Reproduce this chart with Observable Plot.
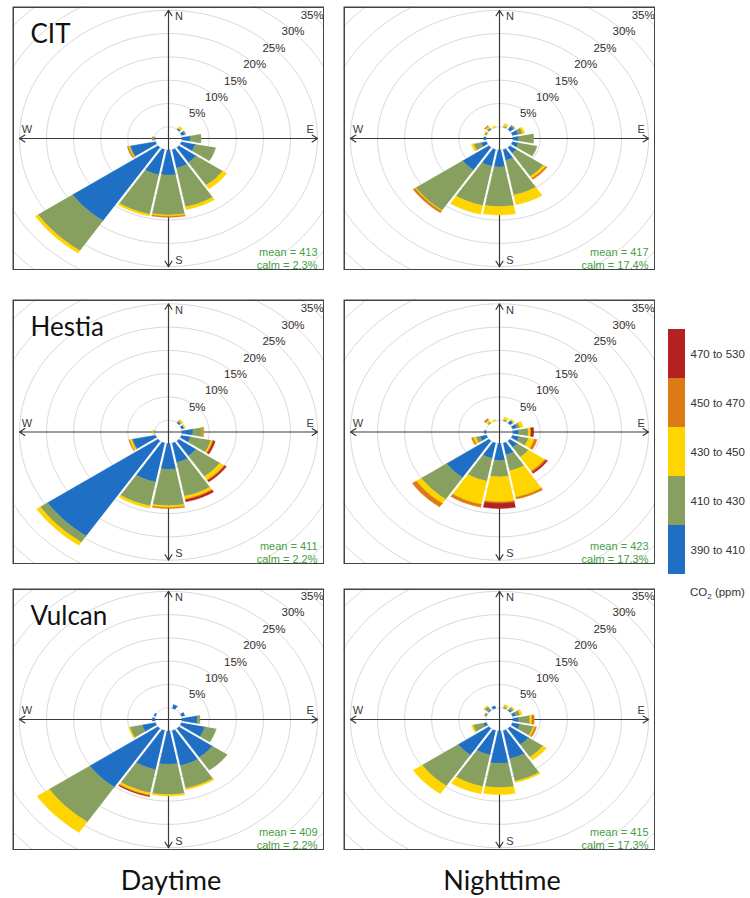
<!DOCTYPE html>
<html><head><meta charset="utf-8">
<script src="https://cdn.jsdelivr.net/npm/d3@7"></script>
<script src="https://cdn.jsdelivr.net/npm/@observablehq/plot@0.6"></script>
<style>
body{margin:0;background:#fff;}
#wrap{position:relative;width:750px;height:898px;background:#fff;overflow:hidden;}
.abs{position:absolute;}
.col{position:absolute;font-family:Lato,"Open Sans",sans-serif;font-size:27px;color:#111;text-align:center;width:200px;line-height:34px;}
</style></head><body><div id="wrap"></div>
<script>
// ---- data ----
const directions = [0,22.5,45,67.5,90,112.5,135,157.5,180,202.5,225,247.5,270,292.5,315,337.5];
const binLabels = ["390 to 410","410 to 430","430 to 450","450 to 470","470 to 530"];
const binColors = ["#1f6fc5","#87a05f","#ffd500","#dc7a17","#b52020"];
const gridPercents = [5,10,15,20,25,30,35];
const compass = ["N","E","S","W"];
const siteNames = ["CIT","CIT","Hestia","Hestia","Vulcan","Vulcan"];
const periods = ["Daytime","Nighttime"];
const means = [413,417,411,423,409,415];
const calms = [2.3,17.4,2.2,17.3,2.2,17.3];
// percent of time per direction (N..NNW) in each CO2 bin [390-410, 410-430, 430-450, 450-470, 470-530]
const citDay = [
 [0,0,0,0,0],[0,0,0,0,0],[0.3,0,0.5,0,0],[0.6,0.2,0,0,0],
 [1.5,2.0,0,0,0],[2.6,3.8,0,0,0],[3.8,5.9,0.9,0,0],[4.0,8.5,0.6,0,0],
 [5.35,8.55,0.3,0.2,0],[5.5,8.6,0.4,0,0],[18.9,7.7,0.6,0,0],[4.7,0.2,0.2,0.2,0],
 [0.1,0.3,0,0.1,0],[0,0,0,0,0],[0,0,0,0,0],[0,0,0,0,0]];
const citNight = [
 [0,0,0,0,0],[0,0.3,0.5,0,0],[0.8,0.3,0,0,0],[1.0,0.9,0.4,0,0],
 [1.0,2.8,0,0,0],[1.1,3.5,0,0,0],[1.4,6.0,0.5,0.3,0],[2.3,7.6,2.1,0,0],
 [3.6,8.5,1.8,0,0],[3.6,8.6,1.9,0,0],[5.8,10.4,0.2,0.4,0],[1.0,1.4,0.4,0,0],
 [0.4,0,0,0,0],[0,0.3,0.2,0,0],[0.2,0.2,0.4,0.2,0],[0,0,0.3,0,0]];
const hestiaDay = [
 [0,0,0,0,0],[0,0,0,0,0],[0.3,0.3,0.3,0,0],[0.5,0,0.2,0,0],
 [2.0,1.7,0.1,0.2,0],[1.7,3.8,0.3,0.2,0.3],[3.8,5.3,0.9,0.2,0.3],[4.2,7.4,0.6,0.2,0.4],
 [5.5,7.8,0.4,0.2,0],[8.5,5.2,0.5,0,0],[24.5,1.6,0.8,0,0],[4.3,0.2,0.4,0.1,0],
 [0,0.3,0.1,0,0],[0,0,0,0,0],[0,0,0,0,0],[0,0,0,0,0]];
const hestiaNight = [
 [0,0,0,0,0],[0,0.3,0.5,0,0],[0.7,0,0.3,0,0],[0.8,0.6,0.6,0,0],
 [1.0,1.8,0.5,0,0.5],[1.2,1.8,1.1,0.5,0],[1.6,2.5,3.6,0.3,0.3],[2.5,3.5,5.8,0.4,0],
 [3.6,3.5,5.4,0.3,1.1],[3.3,5.0,5.1,0.6,0],[9.4,5.6,1.1,0.9,0],[1.2,0.8,0.5,0.3,0],
 [0.3,0,0,0,0],[0,0,0,0,0],[0,0.3,0.5,0.3,0],[0,0,0.3,0,0]];
const vulcanDay = [
 [0,0,0,0,0],[0.8,0,0,0,0],[0,0,0,0,0],[0.6,0,0,0,0],
 [2.8,0.5,0,0,0],[4.4,2.1,0,0,0],[7.4,3.3,0,0,0],[7.6,5.0,0.3,0,0],
 [7.1,6.5,0.3,0,0],[8.5,5.1,0.5,0.2,0.1],[15.1,9.0,2.7,0,0],[2.5,2.3,0.2,0,0],
 [0.5,0,0,0,0],[0.3,0,0,0,0],[0,0,0,0,0],[0,0,0,0,0]];
const vulcanNight = [
 [0,0,0,0,0],[0,0.4,0.4,0,0],[0.3,0.5,0.2,0,0],[0.6,0.8,0.4,0,0],
 [1.0,2.1,0.4,0.4,0],[1.4,2.5,0.3,0.3,0],[4.1,3.2,0.8,0,0],[6.1,4.9,0.3,0,0],
 [6.9,5.2,1.5,0,0],[5.3,6.9,1.6,0,0],[6.8,8.0,2.0,0,0],[0.6,1.9,0.3,0,0],
 [0,0,0,0,0],[0,0.4,0,0,0],[0.2,0.8,0.2,0,0],[0.5,0,0,0,0]];
const panelData = [citDay, citNight, hestiaDay, hestiaNight, vulcanDay, vulcanNight];

// ---- layout / style ----
const OFF = 2.5, UPPER = 27.5, GAP = 0.45;
const colX = [12, 343], colW = 312;
const rowY = [6, 299, 588], rowH = [264, 265, 262];
const PXX = 5.42, PXY = 4.66;

function sectors(values){
  const out=[];
  values.forEach((row,i)=>{
    const c = directions[i]*Math.PI/180, h = 11.25*Math.PI/180;
    let r0 = OFF;
    row.forEach((v,j)=>{
      if(!(v>0)) return;
      const r1 = r0+v, id = i+"-"+j, bin = binLabels[j];
      const arc = (r,rev)=>{
        const d = Math.asin(Math.min(1, GAP/2/r));
        const a0 = c-h+d, a1 = c+h-d, pts=[];
        for(let k=0;k<=14;k++){const a=a0+(a1-a0)*k/14; pts.push({id,bin,x:r*Math.sin(a),y:r*Math.cos(a)});}
        return rev?pts.reverse():pts;
      };
      out.push(...arc(r1,false), ...arc(r0,true));
      r0 = r1;
    });
  });
  return out;
}
function ringPoints(){
  const out=[];
  [0,...gridPercents].forEach(p=>{
    const r=OFF+p;
    for(let a=0;a<=360;a+=2){const t=a*Math.PI/180; out.push({ring:p,x:r*Math.sin(t),y:r*Math.cos(t)});}
  });
  return out;
}
const compassPos = {N:[0.07,0.95],E:[0.95,0.07],S:[0.07,-0.95],W:[-0.95,0.07]};
const axisEnds = [{x:0,y:UPPER},{x:0,y:-UPPER},{x:UPPER,y:0},{x:-UPPER,y:0}];

function panel(i){
  const W = colW, H = rowH[Math.floor(i/2)];
  const XU = (W/2)/PXX, YU = (H/2)/PXY;
  const showTitle = i%2===0;
  return Plot.plot({
    width:W, height:H, margin:0,
    x:{domain:[-XU,XU], axis:null}, y:{domain:[-YU,YU], axis:null},
    color:{domain:binLabels, range:binColors},
    style:{fontFamily:"'Liberation Sans', Arial, sans-serif", background:"white"},
    marks:[
      Plot.line(ringPoints(),{x:"x",y:"y",z:"ring",stroke:"#d9d9d9",strokeWidth:1,clip:true}),
      Plot.arrow(axisEnds,{x1:0,y1:0,x2:"x",y2:"y",stroke:"#3a3a3a",strokeWidth:1.2,headLength:8,headAngle:65}),
      Plot.line(sectors(panelData[i]),{x:"x",y:"y",z:"id",fill:"bin",stroke:"bin",strokeWidth:0.5}),
      Plot.text(gridPercents,{x:p=>(p+OFF)*Math.SQRT1_2,y:p=>(p+OFF)*Math.SQRT1_2,text:p=>p+"%",fill:"#332d2d",fontSize:11.5,clip:true}),
      Plot.text(compass,{x:d=>compassPos[d][0]*UPPER,y:d=>compassPos[d][1]*UPPER,text:d=>d,fill:"#3a3a3a",fontSize:11}),
      Plot.text([`mean = ${means[i]}`],{frameAnchor:"bottom-right",text:d=>d,dx:-7,dy:-15,textAnchor:"end",fill:"#43a043",fontSize:11}),
      Plot.text([`calm = ${calms[i]}%`],{frameAnchor:"bottom-right",text:d=>d,dx:-7,dy:-2,textAnchor:"end",fill:"#43a043",fontSize:11}),
      showTitle ? Plot.text([siteNames[i]],{frameAnchor:"top-left",text:d=>d,dx:18,dy:18,textAnchor:"start",lineAnchor:"top",fontSize:26,fontFamily:"Lato, 'Open Sans', sans-serif",fill:"#111"}) : null,
      Plot.frame({stroke:"#444",strokeWidth:1.5,inset:0.75})
    ]
  });
}

const wrap = document.getElementById("wrap");
for(let i=0;i<6;i++){
  const svg = panel(i);
  svg.classList.add("abs");
  svg.style.left = colX[i%2]+"px";
  svg.style.top = rowY[Math.floor(i/2)]+"px";
  svg.style.maxWidth = "none";
  wrap.appendChild(svg);
}

// legend
const leg = Plot.plot({
  width:82, height:248, margin:0,
  x:{domain:[0,82], range:[0,82], axis:null},
  y:{domain:[...binLabels].reverse(), axis:null, padding:0},
  color:{domain:binLabels, range:binColors},
  style:{fontFamily:"'Liberation Sans', Arial, sans-serif", background:"white"},
  marks:[
    Plot.barX(binLabels,{x1:0,x2:17,y:d=>d,fill:d=>d}),
    Plot.text(binLabels,{x:22,y:d=>d,text:d=>d,textAnchor:"start",fontSize:11.5,fill:"#333"})
  ]
});
leg.classList.add("abs");
leg.style.left="668px"; leg.style.top="327px"; leg.style.maxWidth="none";
wrap.appendChild(leg);
const co2 = document.createElement("div");
co2.className="abs";
co2.style.cssText="left:690px;top:586px;font:11.5px 'Liberation Sans',Arial,sans-serif;color:#333;";
co2.innerHTML="CO<sub style='font-size:8px'>2</sub> (ppm)";
wrap.appendChild(co2);

// column labels
periods.forEach((p,k)=>{
  const d=document.createElement("div");
  d.className="col";
  d.textContent=p;
  d.style.left=(colX[k]+colW/2-100+3)+"px";
  d.style.top="863px";
  wrap.appendChild(d);
});
</script></body></html>
